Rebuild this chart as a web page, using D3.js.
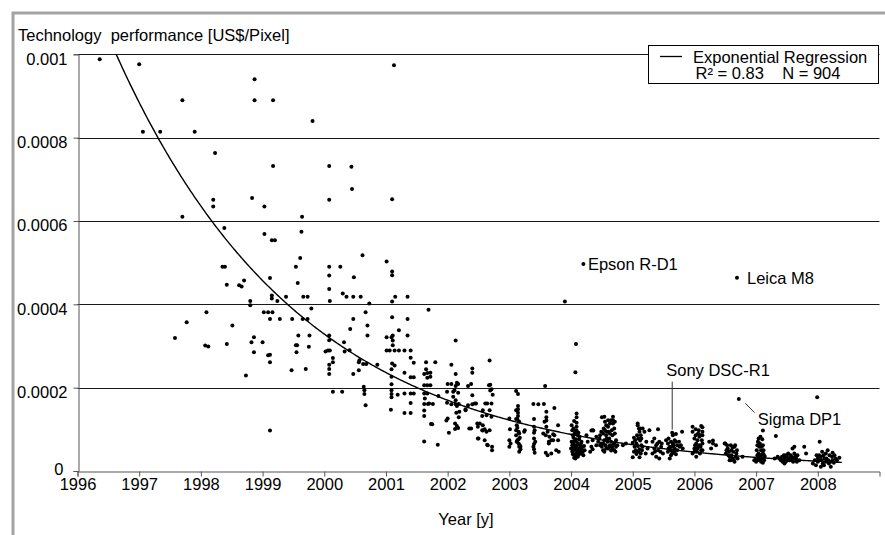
<!DOCTYPE html>
<html><head><meta charset="utf-8">
<script src="https://cdn.jsdelivr.net/npm/d3@7"></script>
<style>
html,body{margin:0;padding:0;background:#fff;}
svg{display:block;font-family:"Liberation Sans",Arial,Helvetica,sans-serif;}
</style></head><body>
<svg id="chart" width="885" height="535"></svg>
<script>
// ---------- data ----------
const yearTicks = [1996,1997,1998,1999,2000,2001,2002,2003,2004,2005,2006,2007,2008];
const valueTicks = [0,0.0002,0.0004,0.0006,0.0008,0.001];
const valueTickLabels = ["0","0.0002","0.0004","0.0006","0.0008","0.001"];
const titleText = "Technology  performance [US$/Pixel]";
const xTitle = "Year [y]";
const legendLines = ["Exponential Regression", "R\u00B2 = 0.83    N = 904"];
// regression y = a * exp(b * (year - 1996))
const regressionCoef = [1.23e-3, -0.33];
const regressionRange = [1996.35, 2008.4];
const VALUE_UNIT = 1e-4; // camera values below are in 1e-4 US$/Pixel
// [year, value]
const cameras = [
[1996.36,9.88],[1997.00,9.76],[1997.06,8.14],[1997.34,8.14],[1997.70,8.90],[1997.70,6.10],[1997.90,8.14],[1998.23,7.63],[1998.20,6.51],[1998.20,6.35],[1998.38,5.83],[1998.83,6.55],[1998.87,9.40],[1998.87,8.90],[1999.03,6.35],[1999.03,5.69],[1999.17,8.90],[1999.17,7.32],[1999.15,5.54],[1999.20,5.54],[1999.64,6.10],[1999.63,5.74],[1999.81,8.40],
[1997.58,3.19],[1997.77,3.57],[1998.09,3.81],[1998.07,3.01],[1998.12,2.99],[1998.35,4.90],[1998.39,4.90],[1998.42,4.47],[1998.42,3.05],[1998.51,3.49],[1998.62,4.46],[1998.66,4.43],[1998.70,4.57],[1998.80,4.08],[1998.80,3.98],[1998.73,2.29],[1998.82,3.09],[1998.86,3.21],[1998.86,2.85],
[1999.00,3.09],[1999.02,3.81],[1999.09,3.81],[1999.16,3.81],[1999.12,4.63],[1999.15,4.21],[1999.15,4.14],[1999.12,3.65],[1999.24,4.08],[1999.28,3.65],[1999.38,4.18],[1999.09,2.78],[1999.12,2.79],[1999.12,2.61],[1999.12,0.97],[1999.47,2.42],[1999.48,3.65],[1999.54,4.90],[1999.57,4.51],[1999.61,5.11],[1999.56,3.02],[1999.54,3.02],[1999.55,2.85],[1999.58,3.25],[1999.66,4.18],[1999.73,4.18],[1999.65,3.65],[1999.73,3.65],[1999.70,2.45],[1999.76,3.25],[1999.75,2.98],[1999.79,3.90],
[2000.08,7.32],[2000.08,6.51],[2000.44,7.30],[2000.45,6.77],
[2000.08,4.90],[2000.08,4.69],[2000.08,4.37],[2000.09,4.08],[2000.08,3.25],[2000.08,3.14],[2000.02,2.87],[2000.06,2.89],[2000.09,2.89],[2000.08,2.55],[2000.08,2.45],[2000.08,2.33],[2000.14,2.71],[2000.14,2.61],[2000.14,1.90],[2000.29,1.90],[2000.26,4.90],[2000.30,4.26],[2000.36,4.18],[2000.32,3.09],[2000.33,2.87],[2000.41,2.90],[2000.42,3.41],[2000.47,3.65],[2000.48,4.65],[2000.47,4.18],[2000.47,2.33],[2000.56,2.61],[2000.56,2.42],[2000.59,4.18],[2000.62,5.18],[2000.73,4.02],[2000.67,3.81],[2000.70,3.49],[2000.70,3.25],[2000.57,2.66],[2000.63,2.57],[2000.68,2.57],[2000.86,2.55],[2000.64,2.02],[2000.65,1.94],[2000.65,1.85],[2000.67,1.58],
[2001.13,9.74],[2001.10,6.52],[2001.01,5.03],[2001.10,4.79],[2001.10,4.70],[2001.10,4.07],[2001.15,4.18],[2001.35,4.18],[2001.69,3.87],[2001.10,3.69],[2001.35,3.65],[2001.21,3.38],[2001.01,3.21],[2001.09,3.21],[2001.11,3.25],[2001.11,3.13],[2001.11,3.02],[2001.35,3.25],[2001.01,2.89],[2001.06,2.89],[2001.14,2.89],[2001.21,2.89],[2001.30,2.89],[2001.40,2.89],[2001.40,2.72],[2001.45,2.60],[2001.10,2.58],[2001.14,2.53],[2001.09,2.44],[2001.30,2.36],[2001.40,2.25],[2001.45,2.25],[2001.09,2.26],[2001.09,2.08],[2001.09,1.94],[2001.09,1.85],[2001.09,1.77],[2001.19,1.83],[2001.30,1.86],[2001.40,1.86],[2001.45,1.86],[2001.08,1.47],[2001.30,1.39],[2001.40,1.39],[2001.40,1.63],
[2001.62,2.33],[2001.67,2.35],[2001.72,2.36],[2001.67,2.24],[2001.72,2.26],[2001.65,2.61],[2001.80,2.61],[2001.65,2.44],[2001.62,2.06],[2001.67,2.06],[2001.72,2.06],[2001.62,1.86],[2001.67,1.86],[2001.62,1.61],[2001.68,1.61],[2001.76,1.61],[2001.62,1.45],[2001.73,1.13],[2001.62,0.71],[2001.84,0.63],[2001.85,1.80],[2001.63,1.74],[2001.70,1.62],[2001.62,1.32],[2001.75,1.12],
[2002.13,3.13],[2002.06,2.55],[2002.13,2.33],[2002.15,2.12],[2002.17,2.09],[2002.13,2.04],[2002.11,1.94],[2002.17,1.88],[2002.00,2.09],[2002.06,2.09],[2001.99,1.90],[2002.09,1.90],[2001.99,1.64],[2002.06,1.60],[2002.13,1.60],[2002.15,1.56],[2002.00,1.26],[2001.98,1.21],[2002.12,1.14],[2002.17,1.03],[2002.12,1.01],[2002.02,0.92],[2002.29,1.48],[2002.33,2.04],[2002.40,2.36],[2002.40,2.46],[2002.40,1.82],[2002.33,1.58],[2002.40,1.60],[2002.46,1.62],[2002.35,1.02],[2002.38,1.02],[2002.48,1.14],[2002.49,1.06],[2002.57,1.10],[2002.50,0.78],[2002.60,0.74],[2002.57,0.97],[2002.60,1.00],[2002.64,0.63],[2002.72,0.58],[2002.72,0.50],[2002.56,1.32],[2002.63,1.34],[2002.71,1.30],[2002.61,1.62],[2002.71,1.62],[2002.68,2.65],[2002.67,2.06],[2002.71,1.96],[2002.73,1.83],[2002.38,2.09],[2002.69,2.07],
[2002.09,1.78],[2002.13,1.70],[2002.18,1.61],[2002.14,1.40],[2002.19,1.42],[2002.18,1.29],[2002.15,1.08],[2002.29,1.46],[2002.44,1.62],[2002.52,1.14],[2002.56,0.98],[2002.57,1.46],[2002.49,0.78],[2002.65,0.62],[2002.63,0.94],[2002.68,0.98],[2002.68,1.46],[2002.64,1.62],[2002.69,1.93],
[2003.11,1.92],[2003.14,1.85],[2003.14,1.56],[2003.14,1.48],[2003.14,1.40],[2003.14,1.32],[2003.13,1.24],[2003.00,1.26],[2003.00,0.74],[2003.00,0.58],[2003.13,0.74],[2003.15,0.66],[2003.16,0.58],[2003.16,0.46],[2003.15,0.94],[2003.16,0.90],[2003.25,0.98],[2003.24,0.94],
[2003.11,1.46],[2003.11,1.25],[2003.16,1.18],[2003.11,0.98],[2003.11,0.86],[2003.17,0.80],[2003.12,0.70],[2003.17,0.62],[2003.18,0.58],
[2003.12,1.10],[2003.13,1.04],[2003.15,0.76],[2003.18,0.52],[2003.02,0.66],[2003.01,1.00],
[2003.39,1.61],[2003.47,1.60],[2003.40,1.25],[2003.40,1.06],[2003.40,0.92],[2003.40,0.78],[2003.40,0.65],[2003.40,0.52],[2003.41,0.98],[2003.42,0.70],[2003.39,0.58],[2003.41,0.44],
[2003.56,1.61],[2003.60,1.42],[2003.58,2.04],[2003.73,1.51],[2003.60,1.29],[2003.60,1.21],[2003.79,1.10],
[2003.57,1.18],[2003.60,1.06],[2003.62,0.94],[2003.59,0.86],[2003.65,0.82],[2003.68,0.74],[2003.73,0.86],[2003.64,0.70],[2003.71,0.74],[2003.79,0.74],[2003.59,0.44],[2003.62,0.38],[2003.68,0.42],[2003.76,0.50],[2003.80,0.46],[2003.55,0.90],[2003.71,0.88],[2003.64,0.66],
[2003.90,4.07],[2004.08,3.05],[2004.07,2.37],
[2004.09,1.38],[2004.09,1.29],[2004.09,1.16],[2004.09,1.06],[2004.09,0.97],[2004.11,0.86],[2004.08,0.76],[2004.03,0.66],[2004.06,0.62],[2004.09,0.57],[2004.13,0.54],[2004.04,0.50],[2004.08,0.42],[2004.11,0.34],[2004.07,0.30],[2004.19,0.46],[2004.20,0.38],[2004.18,0.57],[2004.17,0.70],[2004.13,0.76],[2004.02,0.62],[2004.00,0.54],
[2004.05,1.20],[2004.02,0.98],[2004.06,0.90],[2004.04,0.80],[2004.10,0.68],[2004.15,0.60],[2004.02,0.46],[2004.14,0.44],[2004.06,0.38],[2004.12,0.50],
[2004.01,1.10],[2004.04,1.02],[2004.07,0.94],[2004.12,0.92],[2004.03,0.86],[2004.06,0.72],[2004.11,0.64],[2004.16,0.66],[2004.01,0.70],[2004.04,0.58],[2004.07,0.52],[2004.10,0.46],[2004.16,0.52],[2004.03,0.40],[2004.09,0.36],[2004.13,0.40],[2004.05,0.32],[2004.17,0.42],[2004.22,0.50],[2004.21,0.60],
[2004.33,0.97],[2004.36,0.97],[2004.35,0.74],[2004.27,0.70],[2004.33,0.58],[2004.31,0.46],[2004.41,0.62],[2004.35,0.52],[2004.35,0.98],[2004.25,0.86],[2004.14,0.82],
[2004.50,1.29],[2004.53,1.02],[2004.49,0.94],[2004.60,1.06],[2004.65,1.22],[2004.68,1.14],[2004.70,1.02],[2004.57,0.86],[2004.62,0.78],[2004.65,0.70],[2004.68,0.62],[2004.54,0.74],[2004.50,0.58],[2004.60,0.54],[2004.65,0.49],[2004.70,0.50],[2004.73,0.58],[2004.54,0.46],[2004.49,0.66],[2004.46,0.78],[2004.41,0.82],[2004.68,1.30],[2004.57,1.10],[2004.61,0.94],[2004.67,0.86],[2004.73,0.74],[2004.54,1.30],[2004.68,1.22],
[2004.44,0.70],[2004.47,0.86],[2004.52,0.90],[2004.55,0.98],[2004.58,0.94],[2004.63,0.90],[2004.66,0.98],[2004.71,0.90],[2004.47,0.62],[2004.52,0.66],[2004.56,0.62],[2004.59,0.70],[2004.63,0.62],[2004.66,0.58],[2004.70,0.66],[2004.75,0.62],[2004.52,0.50],[2004.57,0.54],[2004.62,0.58],[2004.67,0.54],[2004.72,0.46],[2004.58,0.78],[2004.63,1.14],[2004.71,1.18],[2004.55,1.18],[2004.60,1.22],
[2004.84,0.62],[2004.89,0.66],[2005.00,0.68],[2005.03,0.58],[2005.08,1.10],[2005.11,0.94],[2005.07,0.86],[2005.04,0.74],[2005.12,0.73],[2005.14,0.62],[2005.11,0.52],[2005.13,0.42],[2005.00,0.33],[2005.06,0.41],[2005.11,0.33],[2005.27,0.98],[2005.08,1.14],[2005.10,1.02],
[2005.02,0.80],[2005.06,0.66],[2005.09,0.78],[2005.13,0.86],[2005.05,0.50],[2005.09,0.46],[2005.02,0.46],[2005.15,0.50],[2005.08,0.60],[2005.12,1.02],
[2005.16,1.02],[2005.19,0.94],[2005.14,0.78],[2005.22,0.70],[2005.16,0.58],[2005.24,0.54],[2005.21,0.42],
[2005.41,1.00],[2005.32,0.70],[2005.35,0.54],[2005.32,0.42],[2005.38,0.62],[2005.41,0.50],[2005.43,0.70],[2005.46,0.58],[2005.49,0.42],[2005.38,0.34],[2005.43,0.30],[2005.35,0.78],[2005.40,0.66],[2005.45,0.46],[2005.36,0.46],[2005.47,0.66],
[2005.54,0.74],[2005.57,0.66],[2005.60,0.58],[2005.62,0.50],[2005.65,0.66],[2005.57,0.46],[2005.62,0.38],[2005.60,0.30],[2005.68,0.54],[2005.70,0.70],[2005.65,0.86],[2005.68,0.74],[2005.76,0.58],[2005.81,0.54],[2005.75,0.70],[2005.70,0.89],[2005.80,0.94],
[2005.58,0.78],[2005.62,0.70],[2005.66,0.62],[2005.72,0.62],[2005.63,0.58],[2005.67,0.46],[2005.72,0.50],[2005.64,0.42],[2005.58,0.54],[2005.70,0.40],[2005.78,0.62],
[2005.97,1.06],[2006.11,1.08],[2006.13,0.94],[2005.97,0.94],[2006.00,0.78],[2006.03,0.66],[2006.00,0.54],[2006.05,0.74],[2006.08,0.62],[2006.11,0.50],[2005.97,0.42],[2006.03,0.34],[2006.08,0.82],[2006.13,0.66],[2006.05,0.54],[2006.12,0.74],[2006.13,1.05],[2006.13,0.86],
[2006.02,0.86],[2006.06,0.90],[2006.10,0.86],[2006.01,0.62],[2006.06,0.58],[2006.10,0.58],[2006.04,0.46],[2006.09,0.42],[2006.13,0.50],[2006.00,0.46],[2006.07,0.98],[2006.02,1.00],
[2006.24,0.70],[2006.30,0.66],[2006.27,0.54],[2006.35,0.62],[2006.30,0.73],
[2006.49,0.66],[2006.54,0.54],[2006.59,0.62],[2006.65,0.58],[2006.51,0.42],[2006.57,0.34],[2006.62,0.30],[2006.68,0.42],[2006.59,0.26],[2006.65,0.22],[2006.69,0.50],[2006.62,0.57],[2006.78,0.34],[2006.50,0.66],
[2006.53,0.62],[2006.56,0.46],[2006.60,0.50],[2006.63,0.46],[2006.67,0.34],[2006.55,0.38],[2006.60,0.38],[2006.64,0.26],[2006.57,0.26],[2006.70,0.30],[2006.66,0.62],[2006.52,0.50],
[2007.11,0.97],[2007.32,0.84],[2007.03,0.70],[2007.05,0.58],[2007.08,0.50],[2007.11,0.42],[2007.05,0.34],[2007.00,0.30],[2007.13,0.26],[2007.08,0.22],[2007.03,0.26],[2007.11,0.62],[2007.13,0.38],[2007.01,0.50],[2006.97,0.26],[2007.10,0.76],
[2007.02,0.62],[2007.06,0.66],[2007.09,0.58],[2007.12,0.50],[2007.04,0.42],[2007.08,0.38],[2007.02,0.38],[2007.10,0.30],[2007.06,0.28],[2007.14,0.34],[2007.00,0.22],[2007.11,0.20],[2007.07,0.82],[2007.04,0.78],
[2007.35,0.34],[2007.40,0.26],[2007.46,0.30],[2007.48,0.38],[2007.51,0.26],[2007.43,0.22],[2007.57,0.34],[2007.62,0.42],[2007.59,0.54],[2007.65,0.30],[2007.70,0.26],[2007.54,0.26],[2007.60,0.22],[2007.38,0.30],[2007.30,0.30],[2007.62,0.58],
[2007.42,0.34],[2007.45,0.38],[2007.50,0.34],[2007.53,0.30],[2007.56,0.38],[2007.60,0.30],[2007.63,0.34],[2007.67,0.38],[2007.44,0.26],[2007.48,0.22],[2007.58,0.26],[2007.66,0.22],[2007.52,0.42],[2007.46,0.18],
[2007.78,0.58],[2007.81,0.42],[2007.99,1.77],[2008.03,0.70],
[2007.92,0.18],[2007.97,0.14],[2008.03,0.26],[2008.08,0.18],[2008.05,0.34],[2008.11,0.30],[2008.13,0.42],[2008.19,0.38],[2008.21,0.22],[2008.24,0.26],[2008.29,0.30],[2008.35,0.32],[2008.21,0.10],[2008.05,0.10],[2008.13,0.22],[2008.00,0.30],[2008.16,0.50],[2008.27,0.38],
[2007.95,0.26],[2008.00,0.22],[2008.02,0.38],[2008.06,0.26],[2008.09,0.38],[2008.10,0.14],[2008.14,0.30],[2008.17,0.26],[2008.18,0.18],[2008.23,0.34],[2008.26,0.20],[2008.31,0.26],[2007.98,0.38],[2008.07,0.46],[2008.24,0.44]
];
// labelled cameras
const labelNames = ["Epson R-D1","Leica M8","Sony DSC-R1","Sigma DP1"];
const labelYears = [2004.20, 2006.69, 2005.64, 2006.72];
const labelValues = [4.97, 4.64, 0.92, 1.73];

// ---------- layout ----------
const svg = d3.select("#chart");
const FONT = 16.5;
const DOT_R = 2;
const x = d3.scaleLinear().domain([1996, 2009]).range([77.5, 879.5]);
const y = d3.scaleLinear().domain([0, 0.001]).range([471, 54.3]);

// outer gray frame
svg.append("path").attr("d","M13,540V13H890")
  .attr("fill","none").attr("stroke","#a3a3a3").attr("stroke-width",3);

// gridlines
svg.append("g").selectAll("line").data(valueTicks.slice(1)).join("line")
  .attr("x1", x(1996)).attr("x2", x(2009))
  .attr("y1", d => Math.round(y(d)) + 0.5).attr("y2", d => Math.round(y(d)) + 0.5)
  .attr("stroke", "#1a1a1a").attr("stroke-width", 1);

// y axis
const yAxis = svg.append("g").attr("transform", `translate(${Math.round(x(1996))+0.5},0)`)
  .call(d3.axisLeft(y).tickValues(valueTicks).tickFormat((d,i)=>valueTickLabels[i]).tickSize(5).tickPadding(6));
yAxis.select(".domain").attr("stroke","#555");
yAxis.selectAll(".tick line").attr("stroke","#555");
yAxis.selectAll("text").attr("font-size",FONT).attr("fill","#000").attr("font-family","Liberation Sans, Arial, sans-serif")
  .attr("dy","0.32em").attr("y",d => d === 0 ? -1.5 : 4.5).attr("dx", d => d === 0 ? -4 : 0);

// x axis
const xAxis = svg.append("g").attr("transform", `translate(0,${Math.round(y(0))+0.5})`)
  .call(d3.axisBottom(x).tickValues(yearTicks).tickFormat(d3.format("d")).tickSize(5).tickPadding(1.5));
xAxis.select(".domain").attr("stroke","#555");
xAxis.selectAll(".tick line").attr("stroke","#555");
xAxis.selectAll("text").attr("font-size",FONT).attr("fill","#000").attr("font-family","Liberation Sans, Arial, sans-serif");

// clip for plot region
svg.append("clipPath").attr("id","plotClip").append("rect")
  .attr("x", x(1996)).attr("y", y(0.001)).attr("width", x(2009)-x(1996)).attr("height", y(0)-y(0.001));

// regression curve
const [ra, rb] = regressionCoef;
const curveYears = d3.range(regressionRange[0], regressionRange[1] + 0.001, 0.02);
svg.append("path").attr("clip-path","url(#plotClip)")
  .datum(curveYears)
  .attr("d", d3.line().x(d => x(d)).y(d => y(ra*Math.exp(rb*(d-1996)))))
  .attr("fill","none").attr("stroke","#000").attr("stroke-width",1.4);

// points
svg.append("g").selectAll("circle").data(cameras).join("circle")
  .attr("cx", d => x(d[0])).attr("cy", d => y(d[1]*VALUE_UNIT)).attr("r", DOT_R).attr("fill","#000");
svg.append("g").selectAll("circle").data(labelNames).join("circle")
  .attr("cx", (d,i) => x(labelYears[i])).attr("cy", (d,i) => y(labelValues[i]*VALUE_UNIT)).attr("r", DOT_R).attr("fill","#000");

// annotations
const lab = svg.append("g").attr("font-size",FONT).attr("fill","#000");
function px(i){ return [x(labelYears[i]), y(labelValues[i]*VALUE_UNIT)]; }
{ const [cx,cy]=px(0); lab.append("text").attr("x",cx+4.5).attr("y",cy+6).text(labelNames[0]); }
{ const [cx,cy]=px(1); lab.append("text").attr("x",cx+10).attr("y",cy+6).text(labelNames[1]); }
{ const [cx,cy]=px(2);
  svg.append("line").attr("x1",cx).attr("x2",cx).attr("y1",cy-3).attr("y2",cy-51).attr("stroke","#333").attr("stroke-width",1);
  lab.append("text").attr("x",cx-6).attr("y",cy-57).text(labelNames[2]); }
{ const [cx,cy]=px(3);
  svg.append("line").attr("x1",cx+6.4).attr("y1",cy+4.3).attr("x2",cx+15.7).attr("y2",cy+13.7).attr("stroke","#333").attr("stroke-width",1);
  lab.append("text").attr("x",cx+19).attr("y",cy+26).text(labelNames[3]); }

// titles
svg.append("text").attr("x",18).attr("y",41).attr("font-size",FONT).style("white-space","pre").text(titleText);
svg.append("text").attr("x",466).attr("y",525).attr("text-anchor","middle").attr("font-size",FONT).text(xTitle);

// legend
const lg = svg.append("g");
lg.append("rect").attr("x",648.5).attr("y",45.5).attr("width",230).attr("height",38).attr("fill","#fff").attr("stroke","#000").attr("stroke-width",1);
lg.append("line").attr("x1",660).attr("x2",682).attr("y1",56.5).attr("y2",56.5).attr("stroke","#000").attr("stroke-width",1.3);
lg.append("text").attr("x",693).attr("y",62.5).attr("font-size",FONT).text(legendLines[0]);
lg.append("text").attr("x",695.5).attr("y",79).attr("font-size",FONT).style("white-space","pre").text(legendLines[1]);
</script>
</body></html>
